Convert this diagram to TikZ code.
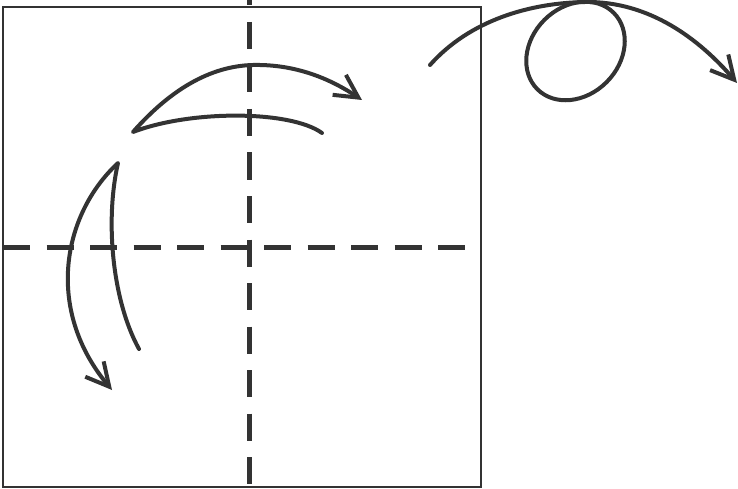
\documentclass[tikz,border=0pt]{standalone}
\usetikzlibrary{arrows.meta}
\definecolor{ink}{RGB}{51,51,51}
\tikzset{
  frame/.style={draw=ink, line width=2pt},
  fold/.style={draw=ink, line width=5pt, dash pattern=on 27pt off 16.5pt},
  move/.style={draw=ink, line width=4pt, line cap=round, line join=round},
  movearrow/.style={move, -{Straight Barb[length=23pt, width=24pt]}}
}
\begin{document}
\begin{tikzpicture}[x=1pt,y=-1pt]
\useasboundingbox (0,0) rectangle (738,489);
% square
\draw[frame] (3,7) rectangle (481,487);
% fold lines
\draw[fold] (3,247) -- (481,247);
\draw[fold] (249.5,-21.5) -- (249.5,489);
% top arrow
\draw[movearrow] (322,133) .. controls (290,110) and (190,110) .. (133,132)
  .. controls (170,90) and (210,66) .. (253,65)
  .. controls (300,64) and (335,82) .. (362,100);
% left arrow
\draw[movearrow] (139,349) .. controls (112,300) and (105,220) .. (118,163)
  .. controls (62,215) and (45,310) .. (112,390);
% right arrow with loop
\draw[movearrow] (430,65) .. controls (470,20) and (530,3) .. (585,2)
  .. controls (650,1) and (700,40) .. (737,83);
\draw[move] (575.5,51) ellipse [x radius=54, y radius=44, rotate=45];
\end{tikzpicture}
\end{document}
